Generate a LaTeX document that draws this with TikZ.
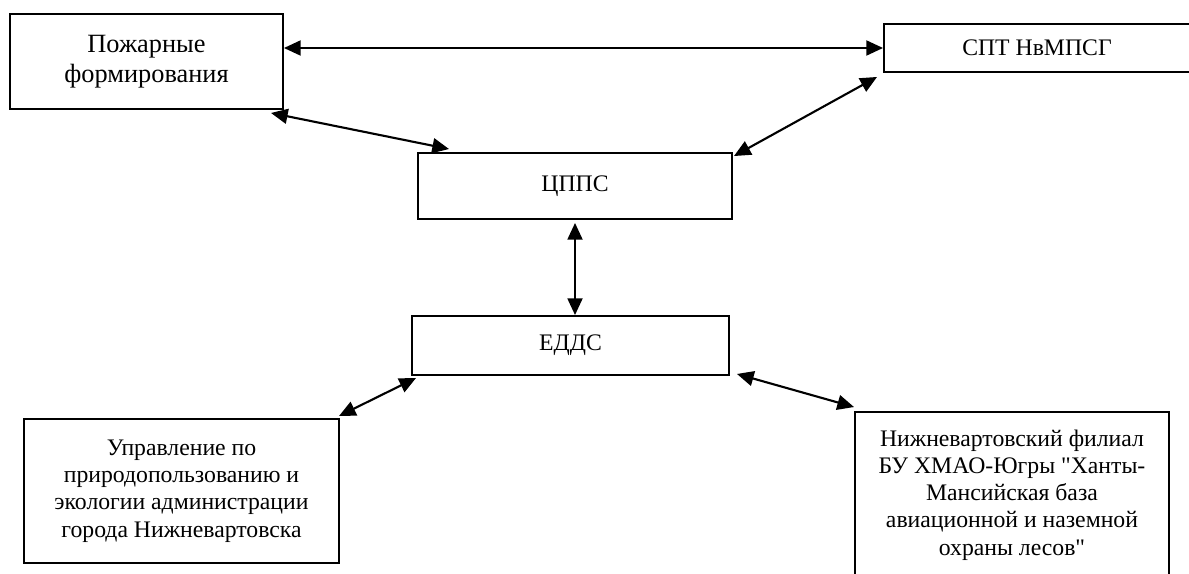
\documentclass[tikz,border=0pt]{standalone}
\usepackage{fontspec}
\setmainfont{Liberation Serif}[Ligatures=TeXOff]
\usetikzlibrary{arrows.meta,calc}

\tikzstyle{blk}=[draw, line width=1.1pt, align=center, inner sep=0pt, font=\fontsize{13.5}{15.5}\selectfont]
\tikzstyle{link}=[line width=1.2pt, {Triangle[length=9.5pt,width=8.5pt]}-{Triangle[length=9.5pt,width=8.5pt]}]

\begin{document}
\begin{tikzpicture}[x=0.02cm, y=-0.02cm]
    \clip (0,0) rectangle (1189,574);
    \node [blk, font=\fontsize{15}{17}\selectfont, minimum width=273*0.02cm, minimum height=95*0.02cm] (pozh) at (146.5,61.5) {Пожарные\\формирования};
    \node [blk, minimum width=306*0.02cm, minimum height=48*0.02cm] (spt) at (1037,48) {СПТ НвМПСГ};
    \node [blk, minimum width=314*0.02cm, minimum height=66*0.02cm] (cpps) at (575,186) {ЦППС};
    \node [blk, minimum width=317*0.02cm, minimum height=59*0.02cm] (edds) at (570.5,345.5) {ЕДДС};
    \node [blk, minimum width=315*0.02cm, minimum height=144*0.02cm] (upr) at (181.5,491) {Управление по\\природопользованию и\\экологии администрации\\города Нижневартовска};
    \node [blk, minimum width=314*0.02cm, minimum height=166*0.02cm] (nizh) at (1012,495) {Нижневартовский филиал\\БУ ХМАО-Югры "Ханты-\\Мансийская база\\авиационной и наземной\\охраны лесов"};
    \draw [link] (spt.west -| pozh.east) -- (spt.west);
    \draw [link] ($(pozh.south east)+(-13,3)$) -- ($(cpps.north west)+(32,-3)$);
    \draw [link] ($(spt.south west)+(-6,4)$) -- ($(cpps.north east)+(1,4)$);
    \draw [link] ($(cpps.south)+(0,3)$) -- (cpps.south |- edds.north);
    \draw [link] ($(edds.south west)+(5,2)$) -- ($(upr.north east)+(-1,-2)$);
    \draw [link] ($(edds.south east)+(7,-2)$) -- ($(nizh.north west)+(0,-4)$);
\end{tikzpicture}
\end{document}
